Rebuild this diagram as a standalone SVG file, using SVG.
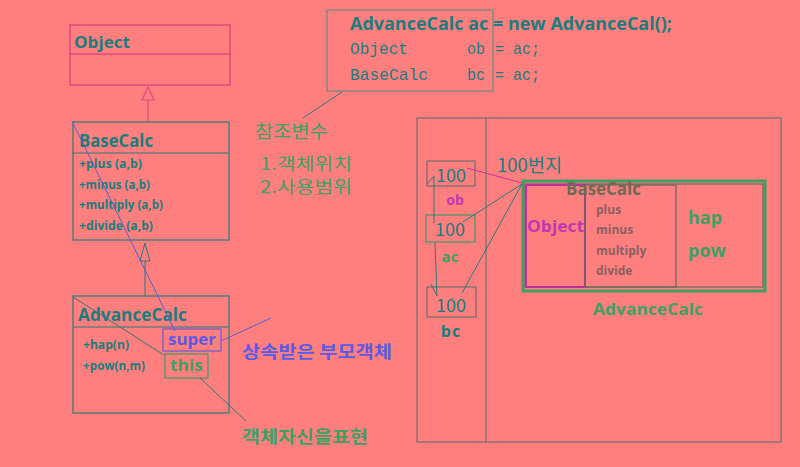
<svg xmlns="http://www.w3.org/2000/svg" width="800" height="467" viewBox="0 0 800 467">
<style>
.bg{fill:#FF7F7F}
.teal{fill:#1A7D7D;font-family:"Open Sans","Noto Sans CJK KR",sans-serif;font-weight:bold}
.tealr{fill:#1A7D7D;font-family:"Noto Sans CJK KR",sans-serif}
.mono{fill:#1A7D7D;font-family:"Liberation Mono","Noto Sans CJK KR",monospace;font-size:17px}
.green{fill:#3DA062;font-family:"Open Sans","Noto Sans CJK KR",sans-serif;font-weight:bold}
.greenk{fill:#3DA062;font-family:"Noto Sans CJK KR",sans-serif}
.blue{fill:#5A5AE6;font-family:"Open Sans","Noto Sans CJK KR",sans-serif;font-weight:bold}
.meth{fill:#1A7D7D;font-family:"Open Sans",sans-serif;font-weight:bold;font-size:12.5px}
.memm{fill:#8A6060;font-family:"Open Sans",sans-serif;font-weight:bold;font-size:12px}
.box{fill:none;stroke:#2A7A7A;stroke-width:1.2}
.pbox{fill:none;stroke:#E04A80;stroke-width:1.5}
.gray{fill:none;stroke:#7A7070;stroke-width:1.3}
.ln{fill:none;stroke:#2A7A7A;stroke-width:1}
</style>
<rect class="bg" x="0" y="0" width="800" height="467"/>

<g id="Object">
<rect class="pbox" x="70" y="25" width="160" height="60"/>
<line class="pbox" x1="70" y1="54" x2="230" y2="54"/>
<text class="teal" x="74" y="48" font-size="16" textLength="56" lengthAdjust="spacingAndGlyphs">Object</text>
</g>

<g id="BaseCalc">
<rect class="box" x="73" y="122" width="156" height="118"/>
<line class="box" x1="73" y1="153" x2="229" y2="153"/>
<text class="teal" x="79" y="147" font-size="17" textLength="74" lengthAdjust="spacingAndGlyphs">BaseCalc</text>
<text class="meth" x="79" y="168" textLength="63" lengthAdjust="spacingAndGlyphs">+plus  (a,b)</text>
<text class="meth" x="79" y="189" textLength="71" lengthAdjust="spacingAndGlyphs">+minus (a,b)</text>
<text class="meth" x="79" y="209" textLength="84" lengthAdjust="spacingAndGlyphs">+multiply (a,b)</text>
<text class="meth" x="79" y="230" textLength="74" lengthAdjust="spacingAndGlyphs">+divide  (a,b)</text>
</g>

<g id="AdvanceCalc">
<rect class="box" x="73" y="296" width="156" height="117"/>
<line class="box" x1="73" y1="327" x2="229" y2="327"/>
<text class="teal" x="78" y="321" font-size="17" textLength="109" lengthAdjust="spacingAndGlyphs">AdvanceCalc</text>
<text class="meth" x="83" y="349" textLength="46" lengthAdjust="spacingAndGlyphs">+hap(n)</text>
<text class="meth" x="83" y="370" textLength="62" lengthAdjust="spacingAndGlyphs">+pow(n,m)</text>
</g>

<g id="super">
<rect fill="none" stroke="#6A5AD0" stroke-width="1.2" x="163" y="329" width="58" height="22"/>
<text class="blue" x="168" y="345" font-size="16" textLength="48" lengthAdjust="spacingAndGlyphs">super</text>
</g>
<g id="this">
<rect fill="none" stroke="#3A9A6A" stroke-width="1.2" x="165" y="354" width="43" height="24"/>
<text class="green" x="170" y="371" font-size="16" textLength="33" lengthAdjust="spacingAndGlyphs">this</text>
</g>

<g id="code">
<rect fill="none" stroke="#6A8A7A" stroke-width="1.2" x="327" y="10" width="166" height="81"/>
<text class="teal" x="350" y="30" font-size="17" textLength="322" lengthAdjust="spacingAndGlyphs">AdvanceCalc ac = new AdvanceCal();</text>
<text class="mono" x="350" y="54" textLength="58" lengthAdjust="spacingAndGlyphs">Object</text>
<text class="mono" x="467" y="54" textLength="18" lengthAdjust="spacingAndGlyphs">ob</text>
<text class="mono" x="495" y="54" textLength="45" lengthAdjust="spacingAndGlyphs">= ac;</text>
<text class="mono" x="350" y="80" textLength="78" lengthAdjust="spacingAndGlyphs">BaseCalc</text>
<text class="mono" x="467" y="80" textLength="18" lengthAdjust="spacingAndGlyphs">bc</text>
<text class="mono" x="495" y="80" textLength="45" lengthAdjust="spacingAndGlyphs">= ac;</text>
</g>

<g id="refvar">
<text class="greenk" x="255" y="138" font-size="18" textLength="73" lengthAdjust="spacingAndGlyphs">참조변수</text>
<text class="greenk" x="260" y="170" font-size="17" textLength="92" lengthAdjust="spacingAndGlyphs">1.객체위치</text>
<text class="greenk" x="260" y="193" font-size="17" textLength="92" lengthAdjust="spacingAndGlyphs">2.사용범위</text>
</g>

<g id="labels">
<text class="blue" x="242" y="358" font-size="17" textLength="150" lengthAdjust="spacingAndGlyphs" style="font-family:'Noto Sans CJK KR',sans-serif">상속받은 부모객체</text>
<text class="greenk" x="242" y="443" font-size="17" font-weight="bold" textLength="126" lengthAdjust="spacingAndGlyphs">객체자신을표현</text>
</g>

<g id="memory">
<rect class="gray" x="417" y="118" width="364" height="324"/>
<line class="gray" x1="486" y1="118" x2="486" y2="442"/>
</g>

<g id="ob">
<rect class="gray" x="427" y="161" width="48" height="25"/>
<text class="tealr" x="451" y="182" font-size="18" text-anchor="middle">100</text>
<text x="455" y="205" font-size="14" font-weight="bold" fill="#C038B0" font-family="Open Sans,sans-serif" text-anchor="middle">ob</text>
</g>
<g id="ac">
<rect fill="none" stroke="#3A9A6A" stroke-width="1.2" x="426" y="215" width="49" height="27"/>
<text class="tealr" x="450" y="236" font-size="18" text-anchor="middle">100</text>
<text x="450" y="262" font-size="15" font-weight="bold" fill="#3DA062" font-family="Open Sans,sans-serif" text-anchor="middle">ac</text>
</g>
<g id="bc">
<rect class="gray" x="427" y="287" width="49" height="30"/>
<text class="tealr" x="451" y="312" font-size="18" text-anchor="middle">100</text>
<text x="451" y="337" font-size="16" font-weight="bold" fill="#1A7D7D" font-family="Open Sans,sans-serif" text-anchor="middle" letter-spacing="1">bc</text>
</g>
<text class="tealr" x="497" y="172" font-size="18" textLength="65" lengthAdjust="spacingAndGlyphs">100번지</text>

<g id="instance">
<rect fill="none" stroke="#3DA062" stroke-width="3" x="523" y="181" width="242" height="110"/>
<rect fill="none" stroke="#6A6A60" stroke-width="1.2" x="525" y="184" width="238" height="103"/>
<rect fill="none" stroke="#C0309A" stroke-width="2" x="526" y="185" width="59" height="102"/>
<rect fill="none" stroke="#6A6A60" stroke-width="1.3" x="585" y="185" width="91" height="102"/>
<text x="566" y="195" font-size="17" font-weight="bold" fill="#6E6A55" font-family="Open Sans,sans-serif" textLength="75" lengthAdjust="spacingAndGlyphs">BaseCalc</text>
<text x="527" y="232" font-size="16" font-weight="bold" fill="#C038B0" font-family="Open Sans,sans-serif" textLength="57" lengthAdjust="spacingAndGlyphs">Object</text>
<text class="memm" x="596" y="214">plus</text>
<text class="memm" x="596" y="234">minus</text>
<text class="memm" x="596" y="255">multiply</text>
<text class="memm" x="596" y="275">divide</text>
<text class="green" x="688" y="224" font-size="18">hap</text>
<text class="green" x="688" y="257" font-size="18">pow</text>
<text class="green" x="593" y="315" font-size="16" textLength="110" lengthAdjust="spacingAndGlyphs">AdvanceCalc</text>
</g>

<g id="connectors">
<line x1="148" y1="100" x2="148" y2="122" stroke="#E04A80" stroke-width="1.2"/>
<polygon points="148,87 142,100 154,100" fill="none" stroke="#E04A80" stroke-width="1.2"/>
<line class="ln" x1="145" y1="261" x2="145" y2="296"/>
<polygon points="145,243 140,261 150,261" fill="none" stroke="#2A7A7A" stroke-width="1"/>
<line x1="72" y1="121" x2="175" y2="331" stroke="#5060D0" stroke-width="1"/>
<line class="ln" x1="73" y1="297" x2="164" y2="355"/>
<line x1="221" y1="341" x2="271" y2="318" stroke="#5060D0" stroke-width="1"/>
<line class="ln" x1="200" y1="378" x2="246" y2="421"/>
<line class="ln" x1="303" y1="118" x2="342" y2="92"/>
<line x1="467" y1="168" x2="522" y2="183" stroke="#C038A0" stroke-width="1"/>
<line class="ln" x1="463" y1="222" x2="522" y2="184"/>
<line class="ln" x1="462" y1="293" x2="522" y2="184"/>
<polyline class="ln" points="427,184 434,176 434,223"/>
<polyline class="ln" points="435,243 437,296 431,284"/>
</g>
</svg>
